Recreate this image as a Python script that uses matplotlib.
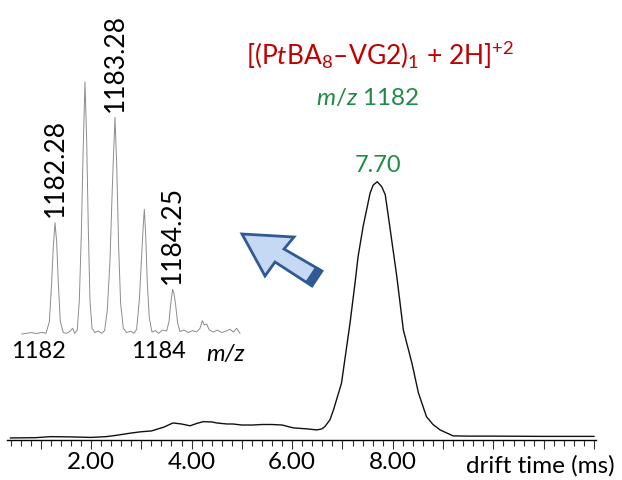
import matplotlib
matplotlib.use('Agg')
import matplotlib.pyplot as plt
import numpy as np
from matplotlib.patches import Polygon

plt.rcParams['font.family'] = ['Lato', 'DejaVu Sans']
plt.rcParams['mathtext.fontset'] = 'custom'
plt.rcParams['mathtext.rm'] = 'Lato'
plt.rcParams['mathtext.it'] = 'Lato:italic'
plt.rcParams['mathtext.default'] = 'regular'

# drift time trace (ms, relative intensity)
drift_t = [0.40, 0.90, 1.20, 1.60, 2.00, 2.30, 2.50, 2.80, 3.00, 3.20, 3.45, 3.63,
           3.80, 3.97, 4.10, 4.23, 4.40, 4.50, 4.70, 4.82, 5.00, 5.22, 5.40, 5.60,
           5.80, 6.02, 6.30, 6.49, 6.59, 6.65, 6.75, 6.82, 6.98, 7.15, 7.25, 7.31,
           7.41, 7.55, 7.61, 7.69, 7.78, 7.85, 7.94, 8.08, 8.21, 8.38, 8.51, 8.67,
           8.80, 8.94, 9.20, 9.50, 10.0, 11.0, 12.0]
drift_i = [0.8, 0.9, 1.3, 1.2, 1.0, 1.3, 1.8, 2.7, 3.2, 3.5, 5.0, 6.6,
           6.2, 5.5, 6.4, 7.1, 7.0, 6.6, 6.2, 6.2, 5.8, 5.8, 6.0, 6.0,
           5.8, 4.7, 4.3, 3.9, 4.3, 5.2, 7.8, 11.6, 22.0, 45.3, 60.9, 71.0,
           82.7, 95.7, 98.7, 100.0, 98.1, 95.0, 82.7, 63.3, 42.6, 29.8, 18.2, 9.0,
           6.0, 3.9, 1.6, 1.5, 1.5, 1.4, 1.4]
drift_peak = 7.70

# inset mass spectrum (m/z, relative intensity)
ms_mz = [1181.725, 1181.808, 1181.891, 1181.974, 1182.058, 1182.130, 1182.186, 1182.224,
         1182.252, 1182.280, 1182.308, 1182.336, 1182.369, 1182.419, 1182.474, 1182.530,
         1182.574, 1182.608, 1182.652, 1182.686, 1182.719, 1182.747, 1182.780, 1182.808,
         1182.836, 1182.863, 1182.897, 1182.947, 1183.002, 1183.058, 1183.108, 1183.152,
         1183.197, 1183.236, 1183.280, 1183.308, 1183.341, 1183.374, 1183.419, 1183.474,
         1183.541, 1183.597, 1183.641, 1183.686, 1183.724, 1183.747, 1183.769, 1183.791,
         1183.819, 1183.852, 1183.897, 1183.952, 1184.008, 1184.074, 1184.141, 1184.180,
         1184.213, 1184.241, 1184.263, 1184.291, 1184.324, 1184.363, 1184.430, 1184.502,
         1184.574, 1184.641, 1184.697, 1184.736, 1184.769, 1184.808, 1184.852, 1184.919,
         1184.986, 1185.058, 1185.130, 1185.197, 1185.252, 1185.308, 1185.363]
ms_int = [-0.3, 0.0, 0.3, -0.1, 0.4, 0.0, 4.6, 19.9,
          34.4, 44.0, 36.4, 19.9, 4.6, 0.3, 0.0, 0.8,
          2.0, 0.0, 1.3, 13.2, 39.7, 70.2, 100.0, 76.8,
          41.1, 13.2, 2.0, 0.3, 0.9, 0.0, 1.1, 9.3,
          29.1, 58.3, 85.9, 67.6, 34.4, 11.9, 2.0, 0.3,
          0.8, 0.0, 1.6, 13.2, 30.5, 41.1, 49.3, 39.7,
          19.9, 6.0, 0.5, 1.1, 0.0, 1.3, 0.9, 4.6,
          12.6, 17.5, 15.9, 11.3, 4.2, 0.7, 1.3, 0.3,
          1.1, 0.5, 2.0, 5.0, 3.3, 3.7, 1.3, 0.5,
          1.3, 0.3, 0.9, 1.6, 0.5, 2.0, 0.0]
ms_labels = ['1182.28', '1183.28', '1184.25']
ms_label_mz = [1182.28, 1183.28, 1184.24]
ms_label_int = [44.0, 85.9, 17.5]

red = '#c00000'
green = '#1e8c46'
W, H = 622, 480

fig = plt.figure(figsize=(W / 100, H / 100), dpi=100)

# main drift time plot
ax = fig.add_axes([7.3 / W, 40 / H, (596 - 7.3) / W, 290 / H])
ax.plot(drift_t, drift_i, color='#111111', lw=1.0)
ax.set_xlim(0.336, 12.04)
ax.set_ylim(0, 112.3)
for s in ['left', 'right', 'top']:
    ax.spines[s].set_visible(False)
ax.spines['bottom'].set_linewidth(1.0)
ax.set_yticks([])
major = np.arange(1, 13)
ax.set_xticks(major)
ax.set_xticklabels(['%.2f' % v if v in (2, 4, 6, 8) else '' for v in major], fontsize=17.5)
ax.set_xticks(np.arange(0.4, 12.01, 0.2), minor=True)
ax.tick_params(axis='x', which='major', direction='out', length=6.5, width=0.8, pad=2, color='#333333')
ax.tick_params(axis='x', which='minor', direction='out', length=4.3, width=0.8, color='#333333')
ax.set_facecolor('none')
ax.annotate('7.70', xy=(drift_peak, 100), xytext=(0, 4), textcoords='offset points',
            ha='center', va='bottom', color=green, fontsize=17)

# inset mass spectrum
ins = fig.add_axes([20 / W, (H - 340) / H, 228 / W, 270 / H])
ins.plot(ms_mz, ms_int, color='#8c8c8c', lw=0.7)
ins.set_xlim(1181.697, 1185.497)
ins.set_ylim(-2.66, 104.7)
for s in ins.spines.values():
    s.set_visible(False)
ins.set_yticks([])
ins.set_xticks([1182, 1184])
ins.set_xticklabels(['1182', '1184'], fontsize=17)
ins.tick_params(axis='x', length=0, pad=1)
ins.set_facecolor('none')
for lab, mz, it in zip(ms_labels, ms_label_mz, ms_label_int):
    ins.annotate(lab, xy=(mz, it), xytext=(0, 4), textcoords='offset points',
                 rotation=90, ha='center', va='bottom', fontsize=19)

# overlay in pixel coordinates for title, arrow and axis label
ov = fig.add_axes([0, 0, 1, 1])
ov.set_xlim(0, W)
ov.set_ylim(H, 0)
ov.axis('off')
ov.set_facecolor('none')

ov.text(380, 65, r'[(P$\it{t}$BA$_8$–VG2)$_1$ + 2H]$^{+2}$', color=red, fontsize=19,
        ha='center', va='baseline')
ov.text(368, 105, r'$\it{m/z}$ 1182', color=green, fontsize=17.5, ha='center', va='baseline')
ov.text(540, 473, 'drift time (ms)', fontsize=17.5, ha='center', va='baseline')
ov.text(226, 361, 'm/z', fontsize=17, style='italic', ha='center', va='baseline')

arrow = [(242, 234), (294, 237), (284, 249), (322, 271), (312, 286), (275, 262), (265, 276)]
ov.add_patch(Polygon(arrow, closed=True, facecolor='#c6d9f4', edgecolor='#2f5a94',
                     lw=2.0, joinstyle='miter'))
cap = [(322, 271), (312, 286), (306, 282), (316, 267)]
ov.add_patch(Polygon(cap, closed=True, facecolor='#2f5a94', edgecolor='#2f5a94', lw=1.0))

fig.savefig('out.png', dpi=100)
